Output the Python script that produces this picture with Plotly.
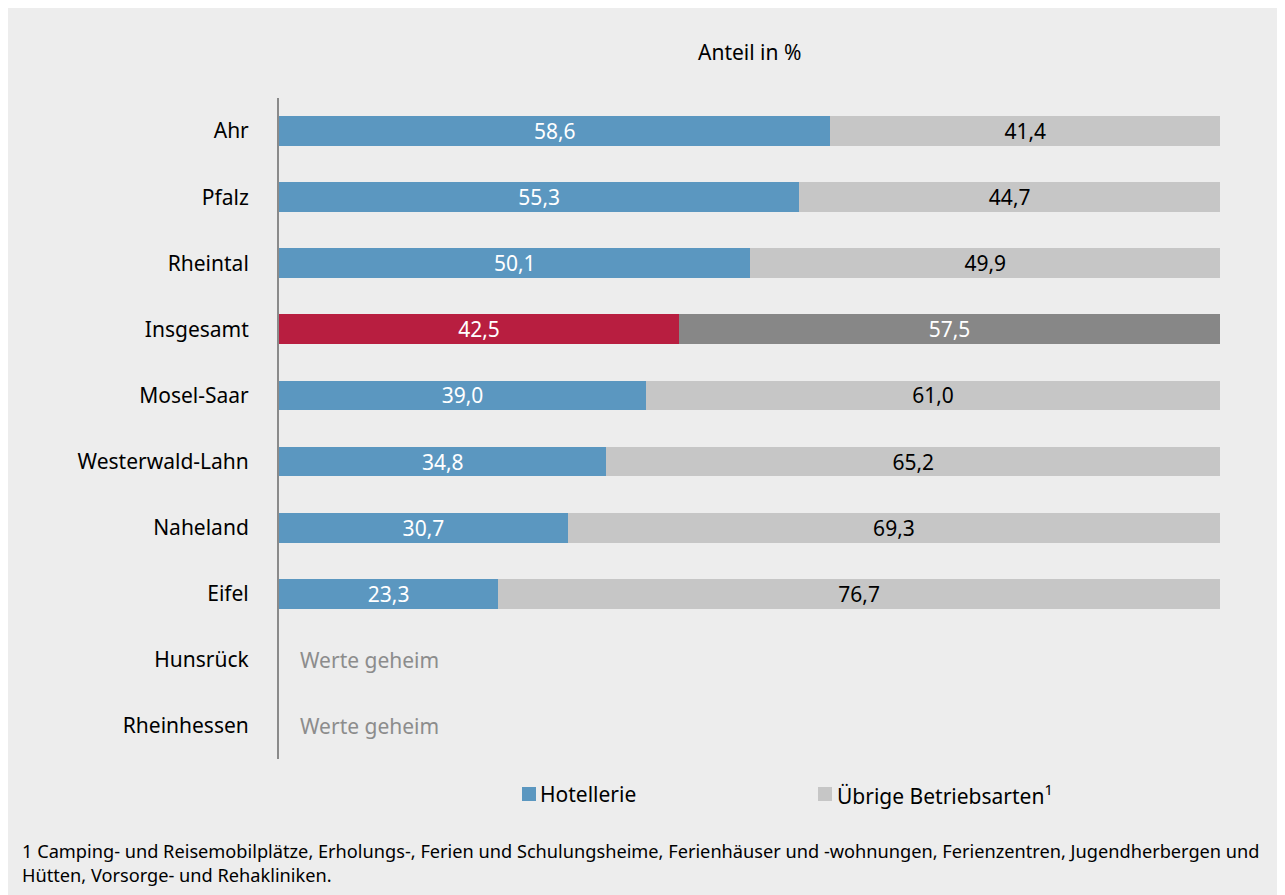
import plotly.graph_objects as go

categories = ["Ahr", "Pfalz", "Rheintal", "Insgesamt", "Mosel-Saar",
              "Westerwald-Lahn", "Naheland", "Eifel", "Hunsrück", "Rheinhessen"]
hotellerie = [58.6, 55.3, 50.1, 42.5, 39.0, 34.8, 30.7, 23.3, None, None]
uebrige = [41.4, 44.7, 49.9, 57.5, 61.0, 65.2, 69.3, 76.7, None, None]
secret_categories = ["Hunsrück", "Rheinhessen"]
secret_text = "Werte geheim"
series_names = ["Hotellerie", "Übrige Betriebsarten<sup>1</sup>"]
title_text = "Anteil in %"
footnote = ("1 Camping- und Reisemobilplätze, Erholungs-, Ferien und Schulungsheime, Ferienhäuser und -wohnungen, "
            "Ferienzentren, Jugendherbergen und<br>Hütten, Vorsorge- und Rehakliniken.")

FONT = "Noto Sans"
BLUE = "#5b97c0"
LGRAY = "#c6c6c6"
RED = "#b81e40"
DGRAY = "#878787"
BG = "#ededed"

def fmt(v):
    return f"{v:.1f}".replace(".", ",")

# only categories with published values get bars
idx = [i for i, v in enumerate(hotellerie) if v is not None]
bar_cats = [categories[i] for i in idx]
bar_h = [hotellerie[i] for i in idx]
bar_u = [uebrige[i] for i in idx]

highlight = [c == "Insgesamt" for c in bar_cats]
h_colors = [RED if h else BLUE for h in highlight]
u_colors = [DGRAY if h else LGRAY for h in highlight]
u_text_colors = ["white" if h else "black" for h in highlight]

fig = go.Figure()
fig.add_trace(go.Bar(
    y=bar_cats, x=bar_h, orientation="h", name="Hotellerie",
    marker=dict(color=h_colors, line=dict(width=0)),
    text=[fmt(v) for v in bar_h], textposition="inside",
    insidetextanchor="middle", textangle=0, constraintext="none",
    textfont=dict(color="white", size=21, family=FONT),
    width=0.45, showlegend=False, hoverinfo="x+y",
))
fig.add_trace(go.Bar(
    y=bar_cats, x=bar_u, orientation="h", name="Übrige",
    marker=dict(color=u_colors, line=dict(width=0)),
    text=[fmt(v) for v in bar_u], textposition="inside",
    insidetextanchor="middle", textangle=0, constraintext="none",
    textfont=dict(color=u_text_colors, size=21, family=FONT),
    width=0.45, showlegend=False, hoverinfo="x+y",
))

# page body margin offsets the figure by 8 px in the screenshot
OFF = 8
W, H = 1285, 895
L = 279 - OFF
T = 98 - OFF
R = W - (1220 - OFF)
B = H - (759 - OFF)
pw, ph = W - L - R, H - T - B

def px_x(px):
    return (px - OFF - L) / pw

def px_y(py):
    return (H - B - (py - OFF)) / ph

shapes = [
    dict(type="rect", xref="paper", yref="paper",
         x0=px_x(522), x1=px_x(536), y0=px_y(801), y1=px_y(787),
         fillcolor=BLUE, line=dict(width=0)),
    dict(type="rect", xref="paper", yref="paper",
         x0=px_x(818), x1=px_x(832), y0=px_y(801), y1=px_y(787),
         fillcolor=LGRAY, line=dict(width=0)),
]

annotations = []
for c in secret_categories:
    annotations.append(dict(x=0, y=c, xref="x", yref="y", text=secret_text,
                            showarrow=False, xanchor="left", xshift=19,
                            font=dict(family=FONT, size=21, color="#8c8c8c")))
annotations.append(dict(x=0.5, y=px_y(52), xref="paper", yref="paper", text=title_text,
                        showarrow=False, xanchor="center", yanchor="middle",
                        font=dict(family=FONT, size=21, color="black")))
annotations.append(dict(x=px_x(538), y=px_y(794), xref="paper", yref="paper",
                        text=series_names[0],
                        showarrow=False, xanchor="left", yanchor="middle",
                        font=dict(family=FONT, size=21, color="black")))
annotations.append(dict(x=px_x(835), y=px_y(794), xref="paper", yref="paper",
                        text=series_names[1],
                        showarrow=False, xanchor="left", yanchor="middle",
                        font=dict(family=FONT, size=21, color="black")))
annotations.append(dict(x=px_x(20), y=px_y(863), xref="paper", yref="paper",
                        text=footnote, showarrow=False, xanchor="left", yanchor="middle",
                        align="left",
                        font=dict(family=FONT, size=18.2, color="black")))

fig.update_layout(
    width=W, height=H,
    margin=dict(l=L, r=R, t=T, b=B, pad=0),
    paper_bgcolor=BG, plot_bgcolor=BG,
    barmode="stack",
    font=dict(family=FONT, size=21, color="black"),
    xaxis=dict(range=[0, 100], visible=False, fixedrange=True),
    yaxis=dict(type="category", categoryorder="array", categoryarray=categories,
               range=[len(categories) - 0.5, -0.5],
               showline=True, linecolor="#8a8a8a", linewidth=2, showgrid=False,
               zeroline=False, ticks="", ticklabelstandoff=24,
               tickfont=dict(family=FONT, size=21, color="black")),
    shapes=shapes, annotations=annotations,
)

fig.write_html("out.html")
